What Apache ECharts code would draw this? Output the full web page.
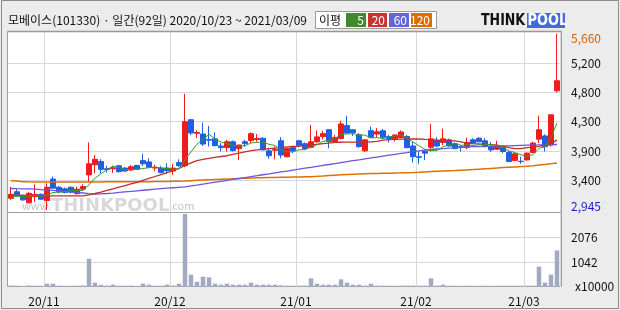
<!DOCTYPE html>
<html><head><meta charset="utf-8">
<script src="https://cdn.jsdelivr.net/npm/echarts@6/dist/echarts.min.js"></script>
<style>html,body{margin:0;padding:0;background:#ececec}#c{width:620px;height:310px}</style>
</head><body><div id="c"></div>
<script>
const dates = [
'2020/10/23','2020/10/26','2020/10/27','2020/10/28','2020/10/29','2020/10/30',
'2020/11/02','2020/11/03','2020/11/04','2020/11/05','2020/11/06','2020/11/09','2020/11/10','2020/11/11','2020/11/12','2020/11/13','2020/11/16','2020/11/17','2020/11/18','2020/11/19','2020/11/20','2020/11/23','2020/11/24','2020/11/25','2020/11/26','2020/11/27','2020/11/30',
'2020/12/01','2020/12/02','2020/12/03','2020/12/04','2020/12/07','2020/12/08','2020/12/09','2020/12/10','2020/12/11','2020/12/14','2020/12/15','2020/12/16','2020/12/17','2020/12/18','2020/12/21','2020/12/22','2020/12/23','2020/12/24','2020/12/28','2020/12/29','2020/12/30',
'2021/01/04','2021/01/05','2021/01/06','2021/01/07','2021/01/08','2021/01/11','2021/01/12','2021/01/13','2021/01/14','2021/01/15','2021/01/18','2021/01/19','2021/01/20','2021/01/21','2021/01/22','2021/01/25','2021/01/26','2021/01/27','2021/01/28','2021/01/29',
'2021/02/01','2021/02/02','2021/02/03','2021/02/04','2021/02/05','2021/02/08','2021/02/09','2021/02/10','2021/02/15','2021/02/16','2021/02/17','2021/02/18','2021/02/19','2021/02/22','2021/02/23','2021/02/24','2021/02/25','2021/02/26',
'2021/03/02','2021/03/03','2021/03/04','2021/03/05','2021/03/08','2021/03/09'];

const opens = [3125,3225,3170,3055,3150,3185,3090,3420,3295,3270,3295,3195,3265,3485,3640,3690,3580,3580,3625,3590,3560,3630,3705,3685,3590,3590,3590,3545,3675,3625,
4335,4125,4115,4030,4040,3930,3905,3995,3890,3995,4015,4030,4050,3855,3865,4010,3765,3905,4010,3965,3910,3995,4075,4180,4000,4045,4245,4180,4100,3855,
4165,4115,4165,4075,4035,4060,4075,3930,3765,3850,3910,4015,3985,4025,3965,3920,3910,4025,4050,4010,3920,3880,3905,3830,3705,3695,3715,3830,4035,4085,3945,4780];
const closes = [3185,3175,3100,3200,3185,3110,3295,3280,3225,3215,3220,3265,3305,3655,3725,3570,3565,3595,3535,3545,3610,3570,3655,3605,3600,3520,3550,3590,3625,4305,
4130,4140,3960,4020,3935,3905,3995,3860,3945,3965,4120,4045,3870,3780,3875,3790,3895,3860,3935,3890,3995,4070,4120,4000,4060,4270,4130,4135,3920,4025,
4065,4150,4065,4045,4100,4145,3905,3765,3755,3820,4040,3930,4040,3930,3890,3910,3985,3975,3995,3920,3870,3935,3845,3690,3810,3690,3820,3975,4180,3920,4410,4935];
const lows = [3100,3160,3085,3045,3070,3100,2945,3275,3200,3200,3200,3185,3255,3380,3510,3510,3520,3515,3520,3530,3545,3560,3625,3590,3545,3510,3495,3485,3610,3605,
4100,4050,3930,3920,3930,3845,3845,3845,3715,3920,3975,3995,3860,3735,3725,3740,3755,3820,3910,3870,3895,3975,4035,3895,3975,4035,4125,4085,3905,3840,
4050,4065,4050,3985,4000,4050,3895,3675,3655,3715,3845,3910,3945,3920,3880,3845,3880,3965,3985,3910,3840,3870,3820,3685,3700,3655,3710,3820,3975,3845,3920,4755];
const highs = [3300,3265,3180,3225,3340,3200,3355,3460,3315,3290,3305,3305,3340,3985,3790,3725,3625,3625,3640,3605,3635,3640,3810,3740,3640,3625,3665,3650,3725,4735,
4345,4170,4290,4240,4140,3975,4025,4015,3950,4025,4140,4115,4065,3895,3920,4065,3905,3930,4025,3985,4255,4170,4165,4185,4100,4320,4395,4185,4130,4030,
4230,4205,4190,4100,4110,4170,4100,4000,3845,3870,4270,4065,4195,4045,3985,3945,4060,4050,4065,4050,3990,4010,3930,3860,3820,3765,3830,3995,4395,4110,4420,5660];

const volumes = [62,55,48,66,58,52,138,140,60,54,50,57,64,1176,180,97,62,97,58,55,60,52,138,97,60,56,97,62,138,3043,
512,221,429,401,138,97,138,97,97,97,180,97,97,97,97,70,60,55,58,62,360,138,97,97,97,318,180,97,97,60,
138,62,58,55,52,57,60,62,55,58,360,60,97,58,55,52,56,50,54,57,52,55,58,60,56,54,58,62,844,180,512,1521];

const ma5 = [3145,3155,3150,3160,3169,3154,3178,3214,3219,3225,3247,3241,3246,3332,3434,3504,3564,3622,3598,3562,3570,3571,3583,3597,3608,3590,3586,3573,3577,3718,
3840,3958,4032,4111,4037,3992,3963,3943,3928,3934,3977,3987,3989,3956,3938,3872,3842,3840,3871,3874,3915,3950,4002,4015,4049,4104,4116,4119,4103,4096,
4055,4059,4045,4070,4085,4101,4052,3992,3934,3878,3857,3862,3917,3952,3966,3940,3951,3938,3951,3957,3949,3939,3913,3852,3830,3794,3771,3797,3895,3917,4061,4284];
const ma20 = [3175,3172,3170,3168,3166,3164,3162,3162,3161,3160,3160,3160,3162,3178,3198,3220,3245,3270,3295,3320,3345,3370,3400,3430,3460,3490,3520,3550,3585,3630,
3670,3705,3725,3740,3755,3768,3780,3800,3820,3840,3858,3870,3882,3890,3898,3905,3915,3922,3928,3935,3945,3955,3965,3975,3985,3988,3990,3990,3990,3992,
3995,4000,4020,4028,4032,4035,4038,4040,4038,4032,4028,4022,4015,4012,4008,3995,3975,3968,3962,3956,3950,3945,3925,3905,3888,3890,3905,3912,3925,3945,3970,4020];
const ma60 = [3275,3272,3270,3268,3265,3258,3252,3246,3238,3230,3222,3214,3206,3196,3190,3192,3198,3205,3214,3222,3230,3240,3248,3256,3264,3272,3280,3287,3294,3300,
3314,3328,3343,3357,3372,3386,3400,3415,3429,3444,3458,3472,3487,3501,3516,3530,3544,3559,3573,3588,3602,3616,3631,3645,3660,3674,3688,3703,3717,3732,
3746,3760,3774,3788,3802,3815,3828,3842,3856,3868,3876,3884,3891,3898,3905,3910,3915,3920,3922,3924,3926,3928,3930,3933,3936,3939,3942,3945,3947,3949,3951,3953];
const ma120 = [3395,3390,3380,3378,3377,3376,3376,3376,3376,3376,3376,3376,3376,3377,3377,3377,3378,3378,3378,3379,3379,3380,3380,3381,3382,3383,3384,3386,3388,3391,
3396,3401,3406,3411,3415,3418,3421,3424,3428,3432,3436,3439,3442,3444,3446,3448,3450,3452,3454,3456,3458,3462,3468,3475,3481,3486,3491,3495,3499,3502,
3505,3508,3510,3512,3514,3516,3519,3522,3526,3531,3536,3540,3544,3548,3552,3557,3562,3567,3573,3579,3585,3591,3597,3603,3608,3613,3618,3626,3636,3646,3656,3668];

const priceGridValues = [3400, 3852, 4304, 4756, 5208];
const priceTickLabels = ['3,400', '3,900', '4,300', '4,800', '5,200'];
const volGridValues = [1042, 2076];
const volTickLabels = ['1042', '2076'];
const volUnitLabel = 'x10000';
const maPeriods = ['5', '20', '60', '120'];
const titleText = '모베이스(101330) · 일간(92일) 2020/10/23 ~ 2021/03/09';
const legendTitle = '이평';

const FONT = '"Noto Sans CJK KR","Noto Sans",sans-serif';
const RED = '#f01c1c', BLUE = '#1f5fe0';
const maColors = ['#3c9a28', '#c0302c', '#6a55e0', '#e07000'];
const boxColors = ['#3d8b2b', '#c83232', '#6464dc', '#dc6e00'];
const GRIDC = '#d8d8d8';

const priceMin = 2913, priceMax = 5702, priceTop = 31, priceH = 181;
const perPx = (priceMax - priceMin) / priceH;
const hi = Math.max(...highs), lo = Math.min(...lows);
const hiPos = hi - 5 * perPx, loPos = lo + 3 * perPx;

const monthStarts = [];
dates.forEach((d, i) => { if (i > 0 && d.slice(5, 7) !== dates[i - 1].slice(5, 7)) monthStarts.push(i); });
const monthLabel = d => d.slice(2, 4) + '/' + d.slice(5, 7);

const nearestLabel = (vals, labels, v) => {
  let bi = 0; vals.forEach((x, i) => { if (Math.abs(x - v) < Math.abs(vals[bi] - v)) bi = i; });
  return labels[bi];
};

const chart = echarts.init(document.getElementById('c'), null, {renderer: 'canvas'});

const legendGraphics = [];
const boxX = [346, 368, 389, 411], boxW = [20, 19, 20, 21];
maPeriods.forEach((p, i) => {
  legendGraphics.push({type: 'rect', shape: {x: boxX[i], y: 13, width: boxW[i], height: 14}, style: {fill: boxColors[i]}, z: 10});
  legendGraphics.push({type: 'text', x: boxX[i] + boxW[i] - 2, y: 20.5, style: {text: p, fill: '#fff', font: '12px ' + FONT, textAlign: 'right', textVerticalAlign: 'middle'}, z: 11});
});

const option = {
  animation: false,
  backgroundColor: '#ececec',
  textStyle: {fontFamily: FONT},
  grid: [
    {left: 8, top: priceTop, width: 552, height: priceH},
    {left: 8, top: 212, width: 552, height: 75}
  ],
  xAxis: [
    {type: 'category', gridIndex: 0, data: dates, boundaryGap: true,
     axisLine: {show: false}, axisTick: {show: false}, axisLabel: {show: false},
     splitLine: {show: true, interval: (i) => monthStarts.includes(i), lineStyle: {color: GRIDC, width: 1}}},
    {type: 'category', gridIndex: 1, data: dates, boundaryGap: true,
     axisLine: {show: false}, axisTick: {show: false},
     axisLabel: {show: true, interval: (i) => monthStarts.includes(i), formatter: (v) => monthLabel(v),
                 color: '#111', fontSize: 12, fontFamily: FONT, margin: 8, padding: [0, 6, 0, 0]},
     splitLine: {show: true, interval: (i) => monthStarts.includes(i), lineStyle: {color: GRIDC, width: 1}}}
  ],
  yAxis: [
    {type: 'value', gridIndex: 0, position: 'right', min: priceMin, max: priceMax,
     axisLine: {show: false}, axisTick: {show: false, customValues: priceGridValues},
     axisLabel: {customValues: priceGridValues, formatter: (v) => nearestLabel(priceGridValues, priceTickLabels, v),
                 margin: 11, color: '#111', fontSize: 12, fontFamily: FONT},
     splitLine: {show: true, lineStyle: {color: GRIDC, width: 1}}},
    {type: 'value', gridIndex: 0, position: 'right', min: priceMin, max: priceMax,
     axisLine: {show: false}, axisTick: {show: false, customValues: [loPos, hiPos]},
     axisLabel: {customValues: [loPos, hiPos], margin: 11, fontSize: 12, fontFamily: FONT,
                 formatter: (v) => Math.abs(v - hiPos) < 1 ? '{hi|' + hi.toLocaleString('en-US') + '}' : '{lo|' + lo.toLocaleString('en-US') + '}',
                 rich: {hi: {color: '#d06000', fontSize: 12, fontFamily: FONT}, lo: {color: '#1a1ad0', fontSize: 12, fontFamily: FONT}}},
     splitLine: {show: false}},
    {type: 'value', gridIndex: 1, position: 'right', min: 0, max: 3120,
     axisLine: {show: false}, axisTick: {show: false, customValues: volGridValues},
     axisLabel: {customValues: volGridValues, formatter: (v) => nearestLabel(volGridValues, volTickLabels, v),
                 margin: 11, color: '#111', fontSize: 12, fontFamily: FONT},
     splitLine: {show: true, lineStyle: {color: GRIDC, width: 1}}}
  ],
  graphic: [
    {type: 'rect', shape: {x: 1.5, y: 0.5, width: 617, height: 308}, style: {fill: 'none', stroke: '#8c8c8c', lineWidth: 1}, z: 100},
    {type: 'rect', shape: {x: 7.5, y: 31.5, width: 554, height: 255}, style: {fill: '#ffffff', stroke: '#a0a0a0', lineWidth: 1}, z: -10},
    {type: 'line', shape: {x1: 7.5, y1: 31.5, x2: 561.5, y2: 31.5}, style: {stroke: '#999', lineWidth: 1.5}, z: 100},
    {type: 'line', shape: {x1: 7.5, y1: 212.5, x2: 561.5, y2: 212.5}, style: {stroke: '#a0a0a0', lineWidth: 1}, z: 100},
    {type: 'text', x: 22, y: 206, z: -5,
     style: {text: '{a|www.}{b|THINKPOOL}{a|.com}', textVerticalAlign: 'middle',
             rich: {a: {fill: '#c4c4c4', font: '11px ' + FONT}, b: {fill: '#d8d8d8', font: 'bold 18px "DejaVu Sans",sans-serif'}}}},
    {type: 'text', x: 8, y: 20.5, style: {text: titleText, fill: '#111', font: '12px ' + FONT, textVerticalAlign: 'middle'}, z: 10},
    {type: 'rect', shape: {x: 315.5, y: 11.5, width: 121, height: 17}, style: {fill: '#fff', stroke: '#9a9a9a', lineWidth: 1}, z: 9},
    {type: 'text', x: 319, y: 20.5, style: {text: legendTitle, fill: '#111', font: '12px ' + FONT, textVerticalAlign: 'middle'}, z: 10},
    ...legendGraphics,
    {type: 'text', x: 481, y: 21, scaleX: 0.84, style: {text: 'THINK', fill: '#111', font: 'bold 15px "DejaVu Sans",sans-serif', textVerticalAlign: 'middle'}, z: 10},
    {type: 'rect', shape: {x: 527, y: 13, width: 38, height: 15}, style: {fill: '#3f6fd6'}, z: 9},
    {type: 'text', x: 527.5, y: 21, scaleX: 0.86, style: {text: 'POOL', fill: '#fff', font: 'bold 15px "DejaVu Sans",sans-serif', textVerticalAlign: 'middle'}, z: 10},
    {type: 'text', x: 575, y: 286, style: {text: volUnitLabel, fill: '#111', font: '12px ' + FONT, textVerticalAlign: 'middle'}, z: 10}
  ],
  series: [
    {type: 'candlestick', xAxisIndex: 0, yAxisIndex: 0, barWidth: 5,
     data: dates.map((d, i) => [opens[i], closes[i], lows[i], highs[i]]),
     itemStyle: {color: RED, color0: BLUE, borderColor: RED, borderColor0: BLUE, borderWidth: 1}},
    {type: 'line', name: '120', xAxisIndex: 0, yAxisIndex: 0, data: ma120, showSymbol: false, lineStyle: {color: maColors[3], width: 1.5}, z: 3},
    {type: 'line', name: '60', xAxisIndex: 0, yAxisIndex: 0, data: ma60, showSymbol: false, lineStyle: {color: maColors[2], width: 1.3}, z: 3},
    {type: 'line', name: '20', xAxisIndex: 0, yAxisIndex: 0, data: ma20, showSymbol: false, lineStyle: {color: maColors[1], width: 1.3}, z: 3},
    {type: 'line', name: '5', xAxisIndex: 0, yAxisIndex: 0, data: ma5, showSymbol: false, lineStyle: {color: maColors[0], width: 1}, z: 3},
    {type: 'bar', xAxisIndex: 1, yAxisIndex: 2, data: volumes, barWidth: 4.5, itemStyle: {color: '#a2aac2'}}
  ]
};
chart.setOption(option);
</script>
</body></html>
